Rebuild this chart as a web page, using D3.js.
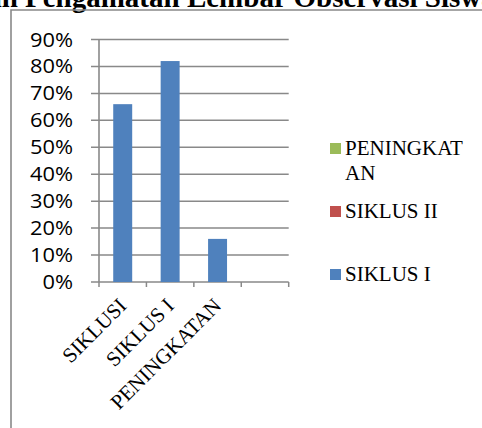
<!DOCTYPE html>
<html>
<head>
  <meta charset="utf-8">
  <script src="https://d3js.org/d3.v7.min.js"></script>
  <style>
    body { margin: 0; background: #fff; }
    svg { display: block; }
  </style>
</head>
<body>
  <svg width="482" height="428"></svg>
  <script>
    // data
    let categories = ["SIKLUSI", "SIKLUS I", "PENINGKATAN", ""];
    let siklusI = [0.66, 0.82, 0.16, null];
    let yTicks = [0, 0.1, 0.2, 0.3, 0.4, 0.5, 0.6, 0.7, 0.8, 0.9];
    let legendNames = [["PENINGKAT", "AN"], ["SIKLUS II"], ["SIKLUS I"]];
    let legendColors = ["#9bbb59", "#c0504d", "#4f81bd"];

    let svg = d3.select("svg");
    let gray = "#898989";

    // title, mostly cut off at the top (as in the reference)
    let title = svg.append("g")
      .style("font-family", "'Liberation Serif', 'Times New Roman', serif")
      .style("font-weight", "bold")
      .style("font-size", "29px");
    title.append("text").attr("x", 25).attr("y", 6.5).text("Pengamatan Lembar Observasi Siswa");
    title.append("text").attr("x", 18).attr("y", 6.5).attr("text-anchor", "end").text("Perbandingan");

    // chart frame (only left and top edges visible)
    svg.append("path")
      .attr("d", "M11,440 L11,10 L490,10")
      .attr("fill", "none")
      .attr("stroke", gray)
      .attr("stroke-width", 1.6);

    let x = d3.scaleBand().domain(categories).range([99, 288.7]).padding(0);
    let y = d3.scaleLinear().domain([0, 0.9]).range([282, 39.5]);

    // gridlines + left ticks
    svg.append("g")
      .selectAll("line")
      .data(yTicks)
      .join("line")
      .attr("x1", 91)
      .attr("x2", 288.7)
      .attr("y1", d => y(d))
      .attr("y2", d => y(d))
      .attr("stroke", gray)
      .attr("stroke-width", 1.5);

    // y axis labels
    svg.append("g")
      .selectAll("text")
      .data(yTicks)
      .join("text")
      .attr("text-anchor", "end")
      .attr("transform", d => "translate(73," + (y(d) + 7) + ") scale(1.12,1)")
      .style("font-family", "'Open Sans', sans-serif")
      .style("font-size", "19.5px")
      .attr("fill", "#000")
      .text(d => Math.round(d * 100) + "%");

    // bars
    let bw = x.bandwidth() * 0.4;
    svg.append("g")
      .selectAll("rect")
      .data(categories.map((c, i) => ({ c: c, v: siklusI[i] })).filter(d => d.v != null))
      .join("rect")
      .attr("x", d => x(d.c) + (x.bandwidth() - bw) / 2)
      .attr("y", d => y(d.v))
      .attr("width", bw)
      .attr("height", d => y(0) - y(d.v))
      .attr("fill", "#4f81bd");

    // axis lines
    svg.append("line")
      .attr("x1", 99).attr("x2", 99)
      .attr("y1", y(0.9)).attr("y2", y(0))
      .attr("stroke", gray).attr("stroke-width", 1.6);

    let xEdges = categories.map(c => x(c)).concat([x.range()[1]]);
    svg.append("g")
      .selectAll("line")
      .data(xEdges)
      .join("line")
      .attr("x1", d => d).attr("x2", d => d)
      .attr("y1", y(0)).attr("y2", y(0) + 5)
      .attr("stroke", gray).attr("stroke-width", 1.5);

    // x labels, rotated
    svg.append("g")
      .selectAll("text")
      .data(categories)
      .join("text")
      .attr("text-anchor", "end")
      .attr("transform", d => "translate(" + (x(d) + x.bandwidth() / 2 + 5) + ",307) rotate(-45)")
      .style("font-family", "'Liberation Serif', 'Times New Roman', serif")
      .style("font-size", "21px")
      .attr("fill", "#000")
      .text(d => d);

    // legend
    let legY = [143, 206, 269];
    let leg = svg.append("g")
      .selectAll("g")
      .data(legendNames)
      .join("g")
      .attr("transform", (d, i) => "translate(330," + legY[i] + ")");
    leg.append("rect")
      .attr("width", 11).attr("height", 11)
      .attr("fill", (d, i) => legendColors[i]);
    leg.append("text")
      .attr("x", 15)
      .attr("y", 12)
      .style("font-family", "'Liberation Serif', 'Times New Roman', serif")
      .style("font-size", "21px")
      .attr("fill", "#000")
      .selectAll("tspan")
      .data(d => d)
      .join("tspan")
      .attr("x", 15)
      .attr("dy", (d, i) => i == 0 ? 0 : 25)
      .text(d => d);
  </script>
</body>
</html>
